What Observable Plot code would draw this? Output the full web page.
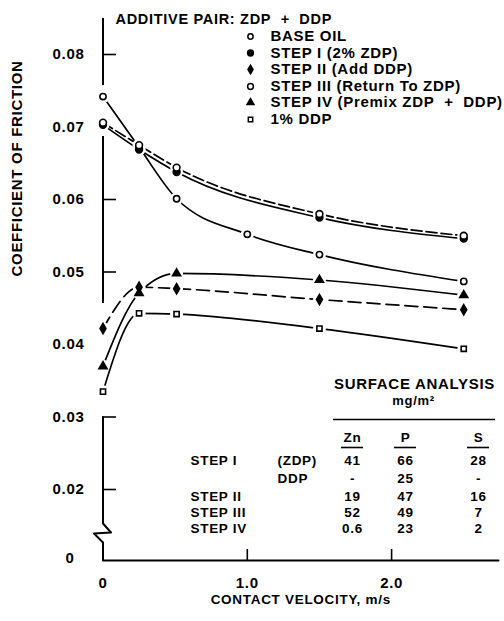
<!DOCTYPE html>
<html><head><meta charset="utf-8">
<script src="https://cdn.jsdelivr.net/npm/d3@7"></script>
<script src="https://cdn.jsdelivr.net/npm/@observablehq/plot@0.6"></script>
<style>
html,body{margin:0;padding:0;background:#fff;}
#chart svg{display:block;}
</style></head><body><div id="chart"></div>
<script>
// ---------- data ----------
const velocity = [0, 0.25, 0.51, 1.5, 2.5];
const baseOilVelocity = [0, 0.25, 0.51, 1.0, 1.5, 2.5];
const baseOil = [0.0742, 0.0672, 0.0601, 0.0552, 0.0524, 0.0487];
const step1 = [0.0703, 0.0669, 0.0638, 0.0575, 0.0546];
const step2 = [0.0422, 0.0479, 0.0477, 0.0462, 0.0448];
const step3 = [0.0706, 0.0675, 0.0644, 0.0580, 0.0550];
const step4 = [0.0370, 0.0471, 0.0498, 0.0489, 0.0468];
const ddp1 = [0.0335, 0.0443, 0.0442, 0.0422, 0.0394];
const seriesNames = ["BASE OIL", "STEP I (2% ZDP)", "STEP II (Add DDP)", "STEP III (Return To ZDP)", "STEP IV (Premix ZDP\u00a0 +\u00a0 DDP)", "1% DDP"];

const yTickValues = [0.02, 0.03, 0.04, 0.05, 0.06, 0.07, 0.08];
const yTickLabels = ["0.02", "0.03", "0.04", "0.05", "0.06", "0.07", "0.08"];
const xTickValues = [0, 1, 2];
const xTickLabels = ["0", "1.0", "2.0"];

const tableSteps = ["STEP I", "", "STEP II", "STEP III", "STEP IV"];
const tableAdditive = ["(ZDP)", "DDP", "", "", ""];
const tableZn = ["41", "-", "19", "52", "0.6"];
const tableP = ["66", "25", "47", "49", "23"];
const tableS = ["28", "-", "16", "7", "2"];
const tableColumns = ["Zn", "P", "S"];

// ---------- layout ----------
const W = 504, H = 621, ML = 102.5, MR = 6, MT = 18, MB = 61;
const XPX = 144.3;           // px per m/s
const YPX = 7250;            // px per unit of friction coefficient
const Y08 = 54;              // pixel row of 0.08
const xAt = px => (px - ML) / XPX;
const yAt = py => 0.08 - (py - Y08) / YPX;
const xMax = xAt(W - MR);
const yTop = yAt(MT), yBase = yAt(H - MB);   // yBase is the broken-axis "0"

const FONT = "'Liberation Sans', Arial, Helvetica, sans-serif";
const FS = 15;
const TFS = 13.5;

const series = [
  {ys: baseOil, xs: baseOilVelocity, symbol: "circle",   fill: "white", r: 3.1, dash: null},
  {ys: step1,   xs: velocity,        symbol: "circle",   fill: "black", r: 3.4, dash: null},
  {ys: step2,   xs: velocity,        symbol: "diamond",  fill: "black", r: 3.1, dash: "13,6"},
  {ys: step3,   xs: velocity,        symbol: "circle",   fill: "white", r: 3.4, dash: "11,4"},
  {ys: step4,   xs: velocity,        symbol: "triangle", fill: "black", r: 3.0, dash: null},
  {ys: ddp1,    xs: velocity,        symbol: "square",   fill: "white", r: 2.9, dash: null}
];
const pts = series.map(s => s.ys.map((v, j) => ({x: s.xs[j], y: v})));
const allPts = pts.flat();

const marks = [];

// lines
series.forEach((s, i) => {
  marks.push(Plot.line(pts[i], {x: "x", y: "y", curve: "monotone-x", stroke: "black",
    strokeWidth: 1.7, strokeDasharray: s.dash}));
});

// halos to break lines near markers
marks.push(Plot.dot(allPts, {x: "x", y: "y", r: 6.5, fill: "white"}));

// axes (broken y axis)
marks.push(Plot.ruleX([0], {y1: yAt(MT), y2: yAt(85), stroke: "black", strokeWidth: 2}));
marks.push(Plot.ruleX([0], {y1: yAt(136), y2: yAt(303), stroke: "black", strokeWidth: 2}));
const lowerAxis = [
  {x: 0, y: 0.03}, {x: 0, y: yAt(523)}, {x: xAt(110.5), y: yAt(532)},
  {x: xAt(93.5), y: yAt(533)}, {x: 0, y: yAt(542)}, {x: 0, y: yBase}, {x: xMax, y: yBase}
];
marks.push(Plot.line(lowerAxis, {x: "x", y: "y", stroke: "black", strokeWidth: 2}));
// y ticks pointing inward
marks.push(Plot.ruleY([0.08, 0.06, 0.05, 0.03, 0.02], {x1: 0, x2: xAt(116), stroke: "black", strokeWidth: 1.6}));
// x ticks
marks.push(Plot.ruleX([1, 2], {y1: yBase, y2: yAt(549), stroke: "black", strokeWidth: 1.6}));

// tick labels
marks.push(Plot.text(yTickValues, {x: 0, y: d => d, text: (d, i) => yTickLabels[i], dx: -34.5,
  textAnchor: "middle", fontSize: FS, fontWeight: "bold"}));
marks.push(Plot.text(["0"], {x: 0, y: yBase, text: d => d, dx: -33, dy: -2,
  textAnchor: "middle", fontSize: FS, fontWeight: "bold"}));
marks.push(Plot.text(xTickValues, {x: d => d, y: yBase, text: (d, i) => xTickLabels[i], dy: 23,
  textAnchor: "middle", fontSize: FS, fontWeight: "bold"}));

// axis titles
marks.push(Plot.text(["CONTACT VELOCITY, m/s"], {frameAnchor: "bottom", text: d => d, dy: 43,
  fontSize: 13.5, fontWeight: "bold"}));
marks.push(Plot.text(["COEFFICIENT OF FRICTION"], {frameAnchor: "left", text: d => d, dx: -85.5, dy: -13,
  rotate: -90, fontSize: FS, fontWeight: "bold"}));
// chart title
marks.push(Plot.text(["ADDITIVE PAIR: ZDP\u00a0 +\u00a0 DDP"], {frameAnchor: "top-left", text: d => d, dx: 12.5, dy: -5,
  textAnchor: "start", fontSize: 14.5, fontWeight: "bold"}));

// markers
series.forEach((s, i) => {
  marks.push(Plot.dot(pts[i], {x: "x", y: "y", symbol: s.symbol, r: s.r, fill: s.fill,
    stroke: "black", strokeWidth: 1.6}));
});

// legend
const legendRowsPx = [36, 52.5, 69, 86, 102, 119];
series.forEach((s, i) => {
  marks.push(Plot.dot([i], {x: xAt(250), y: yAt(legendRowsPx[i]), symbol: s.symbol, r: s.r * 0.85,
    fill: s.fill, stroke: "black", strokeWidth: 1.5}));
});
marks.push(Plot.text(seriesNames, {x: xAt(270), y: (d, i) => yAt(legendRowsPx[i]), text: d => d,
  textAnchor: "start", fontSize: FS, fontWeight: "bold"}));

// surface analysis table
const colPx = [352, 405, 478];
const rowPx = [460, 478, 496, 512, 528];
marks.push(Plot.text(["SURFACE ANALYSIS"], {x: xAt(414), y: yAt(384), text: d => d, fontSize: FS, fontWeight: "bold"}));
marks.push(Plot.text(["mg/m\u00b2"], {x: xAt(413), y: yAt(400), text: d => d, fontSize: 13, fontWeight: "bold"}));
marks.push(Plot.ruleY([yAt(419)], {x1: xAt(333), x2: xAt(495), stroke: "black", strokeWidth: 1.6}));
marks.push(Plot.text(tableColumns, {x: (d, i) => xAt(colPx[i]), y: yAt(437), text: d => d, fontSize: TFS, fontWeight: "bold"}));
marks.push(Plot.ruleY(tableColumns, {y: yAt(447), x1: (d, i) => xAt(colPx[i] - 11), x2: (d, i) => xAt(colPx[i] + 11),
  stroke: "black", strokeWidth: 1.6}));
marks.push(Plot.text(tableSteps, {x: xAt(190), y: (d, i) => yAt(rowPx[i]), text: d => d, textAnchor: "start", fontSize: TFS, fontWeight: "bold"}));
marks.push(Plot.text(tableAdditive, {x: xAt(277), y: (d, i) => yAt(rowPx[i]), text: d => d, textAnchor: "start", fontSize: TFS, fontWeight: "bold"}));
[tableZn, tableP, tableS].forEach((col, c) => {
  marks.push(Plot.text(col, {x: xAt(colPx[c]), y: (d, i) => yAt(rowPx[i]), text: d => d, fontSize: TFS, fontWeight: "bold"}));
});

const chart = Plot.plot({
  width: W, height: H,
  marginLeft: ML, marginRight: MR, marginTop: MT, marginBottom: MB,
  x: {domain: [0, xMax], axis: null},
  y: {domain: [yBase, yTop], axis: null},
  style: {fontFamily: FONT, fontSize: FS + "px", color: "black", background: "white", overflow: "visible", letterSpacing: "0.7px"},
  marks
});
document.getElementById("chart").appendChild(chart);
</script>
</body></html>
